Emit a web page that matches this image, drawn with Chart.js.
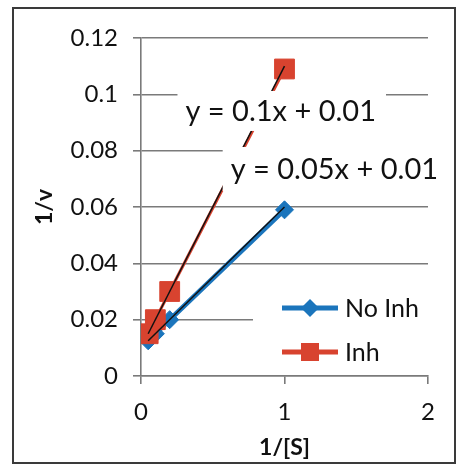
<!DOCTYPE html>
<html>
<head>
<meta charset="utf-8">
<script src="https://cdn.jsdelivr.net/npm/chart.js@4.4.0/dist/chart.umd.min.js"></script>
<style>
  html, body { margin: 0; padding: 0; background: #fff; }
  #wrap { width: 459px; height: 469px; }
</style>
</head>
<body>
<div id="wrap"><canvas id="myChart" width="459" height="469"></canvas></div>
<script>
// 1/[S] values and 1/v readings
const invS = [0.05, 0.1, 0.2, 1];
const noInh = [0.0125, 0.015, 0.02, 0.059];
const inh = [0.015, 0.02, 0.03, 0.109];

// trendline end points
const trendX = [0.05, 1];
const noInhTrend = [0.0125, 0.06];
const inhTrend = [0.015, 0.11];

const xTicks = [0, 1, 2];
const yTicks = [0, 0.02, 0.04, 0.06, 0.08, 0.1, 0.12];
const seriesNames = ["No Inh", "Inh"];
const equations = ["y = 0.1x + 0.01", "y = 0.05x + 0.01"];

const BLUE = "#1b75bc";
const RED = "#d8432f";
const GRID = "#7a7a7a";
const FONT = "Lato, 'Open Sans', sans-serif";

const pts = (xs, ys) => xs.map((x, i) => ({ x: x, y: ys[i] }));

// outer frame of the Excel chart
const framePlugin = {
  id: "frame",
  beforeDraw(chart) {
    const c = chart.ctx;
    c.save();
    c.fillStyle = "#fff";
    c.fillRect(0, 0, chart.width, chart.height);
    c.strokeStyle = "#3a3a3a";
    c.lineWidth = 2;
    c.strokeRect(13, 8, 442, 455);
    c.restore();
  },
};

// equation labels (white boxes) and the legend inside the plot
const overlayPlugin = {
  id: "overlay",
  afterDatasetsDraw(chart) {
    const c = chart.ctx;
    const xs = chart.scales.x, ys = chart.scales.y;
    const ca = chart.chartArea;
    c.save();

    // equations anchored in data units
    const eqPos = [[0.31, 0.0941, 20], [0.625, 0.0735, 22]];
    c.font = "29px " + FONT;
    c.textBaseline = "middle";
    equations.forEach((t, i) => {
      const px = xs.getPixelForValue(eqPos[i][0]);
      const py = ys.getPixelForValue(eqPos[i][1]);
      const w = c.measureText(t).width;
      const h = eqPos[i][2];
      c.fillStyle = "#fff";
      c.fillRect(px - 8, py - h, w + 18, h * 2);
      c.fillStyle = "#111";
      c.fillText(t, px, py + 1);
    });

    // legend
    const lx = ca.right - 175, ly = ca.bottom - 91;
    c.fillStyle = "#fff";
    c.fillRect(lx, ly, 178, 87);
    const colors = [BLUE, RED];
    seriesNames.forEach((name, i) => {
      const y = ly + 23 + i * 44;
      const x0 = lx + 29, x1 = lx + 85, xm = (x0 + x1) / 2;
      c.strokeStyle = colors[i];
      c.lineWidth = 5;
      c.beginPath(); c.moveTo(x0, y); c.lineTo(x1, y); c.stroke();
      c.fillStyle = colors[i];
      c.beginPath();
      if (i === 0) {
        c.moveTo(xm - 9, y); c.lineTo(xm, y - 9); c.lineTo(xm + 9, y); c.lineTo(xm, y + 9);
      } else {
        c.rect(xm - 9, y - 9, 18, 18);
      }
      c.closePath(); c.fill();
      c.fillStyle = "#111";
      c.font = "25px " + FONT;
      c.textBaseline = "middle";
      c.fillText(name, lx + 92, y + 1);
    });
    c.restore();
  },
};

const ctx = document.getElementById("myChart").getContext("2d");
const myChart = new Chart(ctx, {
  type: "scatter",
  data: {
    datasets: [
      {
        label: seriesNames[0],
        data: pts(invS, noInh),
        showLine: true,
        borderColor: BLUE,
        backgroundColor: BLUE,
        borderWidth: 5,
        pointStyle: "rectRot",
        pointRadius: 9,
        pointBorderWidth: 1,
        order: 4,
      },
      {
        label: seriesNames[1],
        data: pts(invS, inh),
        showLine: true,
        borderColor: RED,
        backgroundColor: RED,
        borderWidth: 3,
        pointStyle: "rect",
        pointRadius: 14,
        pointBorderWidth: 1,
        order: 3,
      },
      {
        label: "trend no inh",
        data: pts(trendX, noInhTrend),
        showLine: true,
        borderColor: "#111",
        borderWidth: 1.5,
        pointRadius: 0,
        order: 2,
      },
      {
        label: "trend inh",
        data: pts(trendX, inhTrend),
        showLine: true,
        borderColor: "#111",
        borderWidth: 1.5,
        pointRadius: 0,
        order: 1,
      },
    ],
  },
  options: {
    responsive: false,
    animation: false,
    layout: { padding: { top: 38, right: 31, left: 0, bottom: 0 } },
    plugins: { legend: { display: false }, tooltip: { enabled: false } },
    scales: {
      x: {
        type: "linear",
        min: 0,
        max: 2,
        afterBuildTicks: (s) => { s.ticks = xTicks.map((v) => ({ value: v })); },
        afterFit: (s) => { s.height = 93; },
        grid: { drawOnChartArea: false, drawTicks: true, tickLength: 8, color: GRID, lineWidth: 1.6 },
        border: { color: GRID, width: 1.6 },
        ticks: { color: "#111", font: { family: FONT, size: 24 }, padding: 14 },
        title: {
          display: true,
          text: "1/[S]",
          color: "#111",
          font: { family: FONT, size: 23, weight: "bold" },
          padding: { top: 0, bottom: 8 },
        },
      },
      y: {
        type: "linear",
        min: 0,
        max: 0.12,
        afterBuildTicks: (s) => { s.ticks = yTicks.map((v) => ({ value: v })); },
        afterFit: (s) => { s.width = 141; },
        grid: { drawTicks: true, tickLength: 8, color: GRID, lineWidth: 1.6 },
        border: { color: GRID, width: 1.6 },
        ticks: {
          color: "#111",
          font: { family: FONT, size: 24 },
          padding: 15,
          callback: (v) => String(+v.toFixed(2)),
        },
        title: {
          display: true,
          text: "1/v",
          color: "#111",
          font: { family: FONT, size: 23, weight: "bold" },
          padding: { top: 31, bottom: 0 },
        },
      },
    },
  },
  plugins: [framePlugin, overlayPlugin],
});
</script>
</body>
</html>
